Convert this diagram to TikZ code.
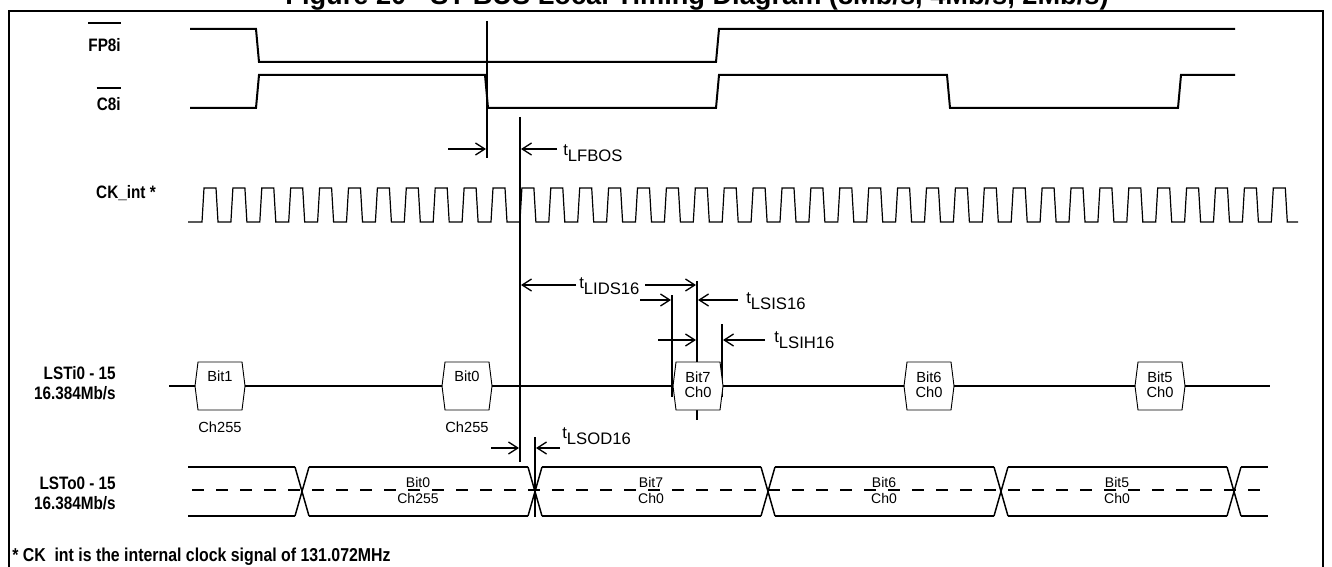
\documentclass[tikz,border=0pt]{standalone}
\usepackage{fontspec}
\setmainfont{Liberation Sans}
\newfontfamily\narrowsf{Liberation Sans}[FakeStretch=0.85]
\usetikzlibrary{arrows.meta}
\newcommand\tsub[1]{t\raisebox{-.36em}{#1}}
\def\bitbox#1{(#1-22,362) -- (#1+22,362) -- (#1+25,386) -- (#1+22,410) -- (#1-22,410) -- (#1-25,386) -- cycle}
\tikzset{
  sig/.style={line width=1.5pt},
  clk/.style={line width=0.9pt},
  edge/.style={line width=1.2pt},
  bus/.style={line width=1.1pt},
  tarr/.style={line width=1pt,-{Straight Barb[length=7pt,width=9pt]}},
  lbl/.style={font=\narrowsf\bfseries\fontsize{13.5}{15}\selectfont,anchor=east,align=right,inner sep=0pt},
  tlab/.style={font=\fontsize{12.5}{14}\selectfont,anchor=base west,inner sep=0pt},
  hexbox/.style={draw,fill=white,line width=0.7pt},
  bittxt/.style={font=\fontsize{11}{11.3}\selectfont,align=center,inner sep=0pt},
  bustxt/.style={font=\fontsize{10.5}{12}\selectfont,anchor=base,inner sep=0pt}
}
\begin{document}
\begin{tikzpicture}[x=0.75pt,y=-0.75pt]
    \useasboundingbox (0,0) rectangle (1332,567);
    \clip (0,0) rectangle (1332,567);
    \node[font=\bfseries\fontsize{20.4}{24}\selectfont,anchor=base] (title) at (697,5) {Figure 20 - ST-BUS Local Timing Diagram (8Mb/s, 4Mb/s, 2Mb/s)};
    \draw[line width=1.4pt] (9,600) |- (1323,11) -- (1323,600);
    \node[lbl] (fp) at (121,45) {FP8i};
    \draw[sig] ([yshift=11pt]fp.north west) -- ([yshift=11pt]fp.north east);
    \node[lbl] (c8) at (121,104) {C8i};
    \draw[sig] ([yshift=6.5pt]c8.north west) -- ([yshift=6.5pt]c8.north east);
    \node[lbl] (ck) at (156,193) {CK\_int *};
    \node[lbl] (lsti) at (116,383) {LSTi0 - 15\\16.384Mb/s};
    \node[lbl] (lsto) at (116,493) {LSTo0 - 15\\16.384Mb/s};
    \draw[sig] (190,29) -- (256,29) -- (259,62) -- (716,62) -- (719,29) -- (1235,29);
    \draw[sig] (190,108) -- (256,108) -- (259,75) -- (485,75) -- (488,108) -- (716,108)
        -- (719,75) -- (947,75) -- (950,108) -- (1178,108) -- (1181,75) -- (1235,75);
    \draw[clk] (188,222) foreach \k in {0,...,37}{ -- ({202+28.9*\k},222) -- ({204+28.9*\k},188)
        -- ({216+28.9*\k},188) -- ({218+28.9*\k},222)} -- (1298,222);
    \draw[edge] (487,21) -- (487,158);
    \draw[edge] (520,117) -- (520,462);
    \draw[edge] (672,295) -- (672,397);
    \draw[edge] (697,281) -- (697,420);
    \draw[edge] (722,324) -- (722,397);
    \draw[edge] (535,437) -- (535,517);
    \draw[edge] (169,386) -- (1270,386);
    \foreach \c in {220,467,698,929,1160} \draw[hexbox] \bitbox{\c};
    \foreach \c/\b in {220/1,467/0} {
        \node[bittxt] (bit\b) at (\c,376) {Bit\b};
        \node[bittxt] (ch\b) at (\c,427) {Ch255};
    }
    \foreach \c/\b in {698/7,929/6,1160/5} \node[bittxt] (bit\b) at (\c,385) {Bit\b\\Ch0};
    \foreach \c in {302,535,768,1001,1234} \draw[bus] (\c-7,467) -- (\c+7,516) (\c-7,516) -- (\c+7,467);
    \foreach \a/\b in {188/295,309/528,542/761,775/994,1008/1227,1241/1268}
        \draw[bus] (\a,467) -- (\b,467) (\a,516) -- (\b,516);
    \draw[bus,dash pattern=on 9pt off 9pt] (192,490) -- (1268,490);
    \foreach \c/\b/\h in {418/0/255,651/7/0,884/6/0,1117/5/0} {
        \node[bustxt] (obit\b) at (\c,487) {Bit\b};
        \node[bustxt] (och\b) at (\c,503) {Ch\h};
    }
    \draw[tarr] (448,149) -- (486,149);
    \draw[tarr] (557,149) -- (521,149);
    \node[tlab] (lfbos) at (563,156) {\tsub{LFBOS}};
    \draw[tarr] (576,285) -- (521,285);
    \node[tlab] (lids) at (579,288) {\tsub{LIDS16}};
    \draw[tarr] (645,285) -- (696,285);
    \draw[tarr] (640,300) -- (671,300);
    \draw[tarr] (738,300) -- (698,300);
    \node[tlab] (lsis) at (746,303) {\tsub{LSIS16}};
    \draw[tarr] (658,340) -- (696,340);
    \draw[tarr] (765,340) -- (723,340);
    \node[tlab] (lsih) at (774,342) {\tsub{LSIH16}};
    \draw[tarr] (491,448) -- (519,448);
    \draw[tarr] (560,448) -- (536,448);
    \node[tlab] (lsod) at (562,438) {\tsub{LSOD16}};
    \node[font=\narrowsf\bfseries\fontsize{14}{16}\selectfont,anchor=west,inner sep=0pt] (note) at (12,557)
        {* CK\ \ int is the internal clock signal of 131.072MHz};
\end{tikzpicture}
\end{document}
